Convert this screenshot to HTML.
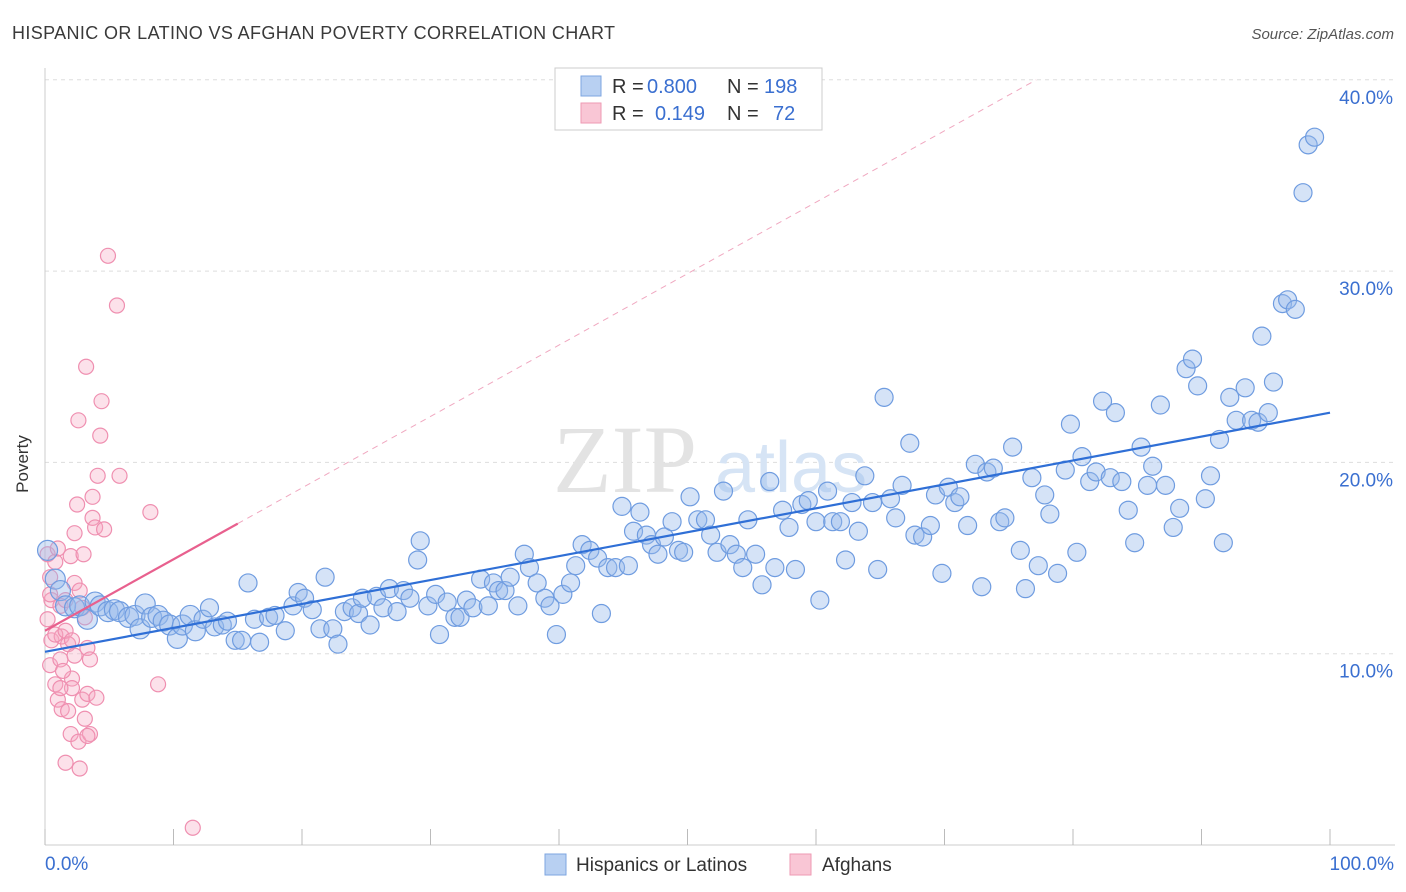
<!DOCTYPE html>
<html><head><meta charset="utf-8"><style>
body{margin:0;background:#fff;font-family:"Liberation Sans",sans-serif;}
svg{display:block}
</style></head><body>
<svg id="chart" width="1406" height="892" viewBox="0 0 1406 892">
<text x="12" y="39" font-size="18" fill="#3a3a3a" textLength="603">HISPANIC OR LATINO VS AFGHAN POVERTY CORRELATION CHART</text>
<text x="1394" y="39" font-size="15" fill="#555" font-style="italic" text-anchor="end">Source: ZipAtlas.com</text>
<g id="grid"></g>
<g><text x="553" y="492" font-size="96" fill="#e3e3e3" font-family="Liberation Serif,serif">ZIP</text><text x="715" y="492" font-size="72" fill="#d6e4f5">atlas</text></g>
<line x1="45" y1="68" x2="45" y2="845" stroke="#ccc"/>
<line x1="45" y1="845" x2="1395" y2="845" stroke="#ccc"/>
<g id="xticks"></g>
<text x="20" y="456" font-size="17" fill="#333" transform="rotate(-90 28 456)" text-anchor="middle">Poverty</text>
<text x="45" y="870" font-size="19" fill="#3a6fd0">0.0%</text>
<text x="1394" y="870" font-size="19" fill="#3a6fd0" text-anchor="end">100.0%</text>
<g id="pinkpts"></g>
<g id="bluepts"></g>
<g id="trends"></g>
<g>
<rect x="555" y="68" width="267" height="62" fill="#fff" stroke="#ccc"/>
<rect x="581" y="76" width="20" height="20" fill="#b8d0f2" stroke="#7ea6e0"/>
<rect x="581" y="103" width="20" height="20" fill="#f9c6d5" stroke="#ee9ab3"/>
<text x="612" y="93" font-size="20" fill="#333">R =</text>
<text x="647" y="93" font-size="20" fill="#3a6fd0">0.800</text>
<text x="727" y="93" font-size="20" fill="#333">N =</text>
<text x="764" y="93" font-size="20" fill="#3a6fd0">198</text>
<text x="612" y="120" font-size="20" fill="#333">R =</text>
<text x="655" y="120" font-size="20" fill="#3a6fd0">0.149</text>
<text x="727" y="120" font-size="20" fill="#333">N =</text>
<text x="773" y="120" font-size="20" fill="#3a6fd0">72</text>
</g>
<g>
<rect x="545" y="854" width="21" height="21" fill="#b8d0f2" stroke="#7ea6e0"/>
<text x="576" y="871" font-size="19" fill="#333">Hispanics or Latinos</text>
<rect x="790" y="854" width="21" height="21" fill="#f9c6d5" stroke="#ee9ab3"/>
<text x="822" y="871" font-size="19" fill="#333">Afghans</text>
</g>
</svg>
<script>
const yTicks=[10,20,30,40];
const yTickLabels=["10.0%","20.0%","30.0%","40.0%"];
const xTicks=[0,10,20,30,40,50,60,70,80,90,100];
const blueX=[0.2,0.8,1.2,1.6,2.3,2.7,3.3,3.9,4.3,4.9,5.4,5.8,6.5,7.0,7.4,7.8,8.3,8.8,9.2,9.7,10.3,10.7,11.3,11.7,12.3,12.8,13.2,13.8,14.2,14.8,15.3,15.8,16.3,16.7,17.4,17.9,18.7,19.3,19.7,20.2,20.8,21.4,21.8,22.4,22.8,23.3,23.9,24.4,24.7,25.3,25.8,26.3,26.8,27.4,27.9,28.4,29.0,29.2,29.8,30.4,30.7,31.3,31.9,32.3,32.8,33.3,33.9,34.5,34.9,35.3,35.8,36.2,36.8,37.3,37.7,38.3,38.9,39.3,39.8,40.3,40.9,41.3,41.8,42.4,43.0,43.3,43.8,44.4,44.9,45.4,45.8,46.3,46.8,47.2,47.7,48.2,48.8,49.3,49.7,50.2,50.8,51.4,51.8,52.3,52.8,53.3,53.8,54.3,54.7,55.3,55.8,56.4,56.8,57.4,57.9,58.4,58.9,59.4,60.0,60.3,60.9,61.3,61.9,62.3,62.8,63.3,63.8,64.4,64.8,65.3,65.8,66.2,66.7,67.3,67.7,68.3,68.9,69.3,69.8,70.3,70.8,71.2,71.8,72.4,72.9,73.3,73.8,74.3,74.7,75.3,75.9,76.3,76.8,77.3,77.8,78.2,78.8,79.4,79.8,80.3,80.7,81.3,81.8,82.3,82.9,83.3,83.8,84.3,84.8,85.3,85.8,86.2,86.8,87.2,87.8,88.3,88.8,89.3,89.7,90.3,90.7,91.4,91.7,92.2,92.7,93.4,93.9,94.4,94.7,95.2,95.6,96.3,96.7,97.3,97.9,98.3,98.8];
const blueY=[15.4,13.9,13.3,12.5,12.4,12.5,11.8,12.7,12.5,12.2,12.3,12.2,11.9,12.0,11.3,12.6,11.9,12.0,11.7,11.5,10.8,11.5,12.0,11.2,11.8,12.4,11.4,11.5,11.7,10.7,10.7,13.7,11.8,10.6,11.9,12.0,11.2,12.5,13.2,12.9,12.3,11.3,14.0,11.3,10.5,12.2,12.4,12.1,12.9,11.5,13.0,12.4,13.4,12.2,13.3,12.9,14.9,15.9,12.5,13.1,11.0,12.7,11.9,11.9,12.8,12.4,13.9,12.5,13.7,13.3,13.3,14.0,12.5,15.2,14.5,13.7,12.9,12.5,11.0,13.1,13.7,14.6,15.7,15.4,15.0,12.1,14.5,14.5,17.7,14.6,16.4,17.4,16.2,15.7,15.2,16.1,16.9,15.4,15.3,18.2,17.0,17.0,16.2,15.3,18.5,15.7,15.2,14.5,17.0,15.2,13.6,19.0,14.5,17.5,16.6,14.4,17.8,18.0,16.9,12.8,18.5,16.9,16.9,14.9,17.9,16.4,19.3,17.9,14.4,23.4,18.1,17.1,18.8,21.0,16.2,16.1,16.7,18.3,14.2,18.7,17.9,18.2,16.7,19.9,13.5,19.5,19.7,16.9,17.1,20.8,15.4,13.4,19.2,14.6,18.3,17.3,14.2,19.6,22.0,15.3,20.3,19.0,19.5,23.2,19.2,22.6,19.0,17.5,15.8,20.8,18.8,19.8,23.0,18.8,16.6,17.6,24.9,25.4,24.0,18.1,19.3,21.2,15.8,23.4,22.2,23.9,22.2,22.1,26.6,22.6,24.2,28.3,28.5,28.0,34.1,36.6,37.0];
const pinkX=[0.2,0.4,0.5,0.2,0.5,0.4,0.8,0.8,1.0,1.2,1.3,1.2,1.0,1.3,1.6,1.8,2.0,2.0,1.6,2.1,2.3,2.3,2.5,2.6,2.1,2.6,2.7,2.9,2.9,3.0,3.1,3.2,3.3,3.3,3.5,3.5,3.7,3.7,3.9,4.0,4.1,4.3,4.4,4.6,4.9,5.6,5.8,8.2,8.8,11.5,0.8,1.6,2.1,2.3,1.2,1.8,3.1,3.3,1.4,2.7,0.4];
const pinkY=[15.2,14.0,12.8,11.8,10.7,9.4,8.4,14.8,15.5,12.5,10.9,9.7,7.6,7.1,12.8,10.5,15.1,5.8,4.3,8.7,13.7,16.3,17.8,22.2,8.2,5.4,4.0,7.6,12.4,15.2,11.9,25.0,10.3,7.9,5.8,9.7,17.1,18.2,16.6,7.7,19.3,21.4,23.2,16.5,30.8,28.2,19.3,17.4,8.4,0.9,11.0,11.2,10.7,9.9,8.2,7.0,6.6,5.7,9.1,13.3,13.1];
const blueTrend=[10.1,22.6]; // at x=0 and x=100
const pinkTrend=[11.2,16.8]; // at x=0 and x=15
const X0=45,X1=1330,Y0=845,PPY=19.13;
const sx=v=>X0+(X1-X0)*v/100;
const sy=v=>Y0-v*PPY;
const NS="http://www.w3.org/2000/svg";
function mk(tag,attrs,parent){const e=document.createElementNS(NS,tag);for(const k in attrs)e.setAttribute(k,attrs[k]);parent.appendChild(e);return e;}
const grid=document.getElementById('grid');
yTicks.forEach((t,i)=>{
  const l=mk('line',{x1:45,x2:1395,y1:sy(t),y2:sy(t),stroke:'#ddd','stroke-dasharray':'4,4'},grid);
  
  
  const tx=mk('text',{x:1393,y:sy(t)+24,'font-size':19,fill:'#3a6fd0','text-anchor':'end'},grid);
  tx.textContent=yTickLabels[i];
  
  
});
const xt=document.getElementById('xticks');
xTicks.forEach(t=>{
  const l=mk('line',{x1:sx(t),x2:sx(t),y1:829,y2:845,stroke:'#bbb'},xt);
  
  
});
const pg=document.getElementById('pinkpts');
pinkX.forEach((x,i)=>{
  const c=mk('circle',{cx:sx(x),cy:sy(pinkY[i]),r:7.5,fill:'rgba(246,170,195,0.35)',stroke:'#ef8fb0','stroke-width':1.2},pg);
  
  
});
const bg=document.getElementById('bluepts');
blueX.forEach((x,i)=>{
  const c=mk('circle',{cx:sx(x),cy:sy(blueY[i]),r:x<12?10:9,fill:'rgba(150,185,235,0.4)',stroke:'#6f9ce0','stroke-width':1.2},bg);
  
  
});
const tg=document.getElementById('trends');
const slope=(pinkTrend[1]-pinkTrend[0])/15;
const xEnd=(40-pinkTrend[0])/slope;
const d=mk('line',{x1:sx(15),y1:sy(pinkTrend[1]),x2:sx(xEnd),y2:sy(40),stroke:'#f0a8c0','stroke-width':1,'stroke-dasharray':'6,5'},tg);


const p=mk('line',{x1:sx(0),y1:sy(pinkTrend[0]),x2:sx(15),y2:sy(pinkTrend[1]),stroke:'#e8608e','stroke-width':2.2},tg);


const b=mk('line',{x1:sx(0),y1:sy(blueTrend[0]),x2:sx(100),y2:sy(blueTrend[1]),stroke:'#2f6fd6','stroke-width':2.2},tg);


</script>
</body></html>
